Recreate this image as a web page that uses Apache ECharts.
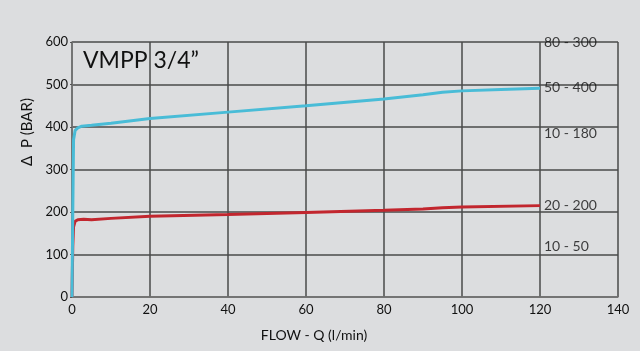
<!DOCTYPE html>
<html>
<head>
<meta charset="utf-8">
<script src="https://cdn.jsdelivr.net/npm/echarts@6/dist/echarts.min.js"></script>
<style>
html,body{margin:0;padding:0;background:#dcdddf;}
#main{width:640px;height:351px;}
</style>
</head>
<body>
<div id="main"></div>
<script>
// curve points: [flow l/min, pressure bar]
var blueCurve = [[0,0],[0.2,200],[0.4,370],[0.8,392],[1.5,398],[2.5,402],[5,404],[10,409],[20,420],[40,435],[60,450],[80,466],[90,476],[95,482],[100,485],[110,488],[120,491]];
var redCurve = [[0,0],[0.2,120],[0.4,165],[0.8,178],[1.5,182],[3,183],[5,182],[10,185],[20,190],[40,194],[60,199],[80,204],[90,207],[95,210],[100,212],[120,215]];
// range labels on the right side
var rangeNames = ['80 - 300','50 - 400','10 - 180','20 - 200','10 - 50'];
var rangeY = [600,492,385,216,120];
var xTicks = [0,20,40,60,80,100,120,140];

var rangePts = [];
for (var i = 0; i < rangeNames.length; i++) {
    rangePts.push({value:[120, rangeY[i]], name:rangeNames[i]});
}

var textColor = '#111';
var font = 'Lato, "DejaVu Sans", sans-serif';

var option = {
    backgroundColor: '#dcdddf',
    animation: false,
    grid: {left:72, right:22, top:42, bottom:54},
    xAxis: {
        type: 'value', min: 0, max: 140, interval: 20,
        axisLine: {show:true, lineStyle:{color:'#777', width:1.5}},
        axisTick: {show:false},
        splitLine: {show:true, lineStyle:{color:'#4a4a4a', width:1.5}},
        axisLabel: {color:textColor, fontSize:13, fontFamily:font, margin:6,
            formatter: function(v){ return xTicks.indexOf(v) >= 0 ? String(v) : ''; }}
    },
    yAxis: {
        type: 'value', min: 0, max: 600, interval: 100,
        axisLine: {show:true, lineStyle:{color:'#777', width:1.5}},
        axisTick: {show:true, length:2, lineStyle:{color:'#555'}},
        splitLine: {show:true, lineStyle:{color:'#4a4a4a', width:1.5}},
        axisLabel: {color:textColor, fontSize:13, fontFamily:font, margin:4}
    },
    graphic: [
        {type:'text', left:83, top:49, style:{text:'VMPP 3/4\u201d', fill:textColor, font:'23px ' + font}},
        {type:'text', x:27, y:132, rotation:Math.PI/2, style:{text:'\u0394  P (BAR)', fill:textColor, font:'15px ' + font, textAlign:'center', textVerticalAlign:'middle'}},
        {type:'text', x:314, y:335, style:{text:'FLOW - Q (l/min)', fill:textColor, font:'14px ' + font, textAlign:'center', textVerticalAlign:'middle'}}
    ],
    series: [
        {type:'line', data:redCurve, showSymbol:false, smooth:false,
            lineStyle:{color:'#c2262e', width:3}, z:2},
        {type:'line', data:blueCurve, showSymbol:false, smooth:false,
            lineStyle:{color:'#49bcd7', width:3}, z:3},
        {type:'scatter', data:rangePts, symbolSize:0, z:4,
            label:{show:true, position:'right', distance:4, formatter:'{b}',
                color:textColor, fontSize:14, fontFamily:font}}
    ]
};
echarts.init(document.getElementById('main')).setOption(option);
</script>
</body>
</html>
